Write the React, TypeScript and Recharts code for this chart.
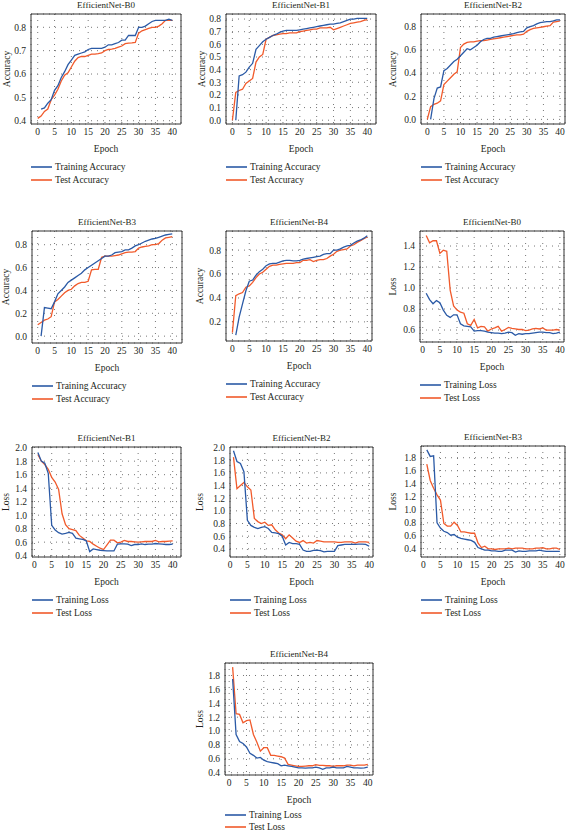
import { LineChart, Line, XAxis, YAxis, CartesianGrid, ReferenceArea } from "recharts";

const FONT = '"Liberation Serif", "DejaVu Serif", serif';
const BLUE = "#2b5aa6";
const RED = "#f15a2b";
const TEXT = "#231f20";
const PAGE_H = 833;

const epochs = [0, 1, 2, 3, 4, 5, 6, 7, 8, 9, 10, 11, 12, 13, 14, 15, 16, 17, 18, 19, 20, 21, 22, 23, 24, 25, 26, 27, 28, 29, 30, 31, 32, 33, 34, 35, 36, 37, 38, 39, 40];
const epochTicks = [0, 5, 10, 15, 20, 25, 30, 35, 40];

// accuracy curves
const accB0Train = [null, 0.45, 0.455, 0.475, 0.49, 0.53, 0.55, 0.585, 0.61, 0.64, 0.66, 0.68, 0.685, 0.69, 0.695, 0.705, 0.71, 0.71, 0.71, 0.71, 0.715, 0.725, 0.725, 0.73, 0.735, 0.745, 0.745, 0.765, 0.765, 0.765, 0.8, 0.8, 0.805, 0.815, 0.825, 0.83, 0.83, 0.83, 0.83, 0.835, 0.83];
const accB0Test = [0.41, 0.42, 0.44, 0.45, 0.49, 0.51, 0.535, 0.57, 0.595, 0.605, 0.63, 0.655, 0.67, 0.675, 0.675, 0.68, 0.685, 0.685, 0.687, 0.69, 0.7, 0.705, 0.707, 0.71, 0.715, 0.72, 0.73, 0.732, 0.733, 0.735, 0.775, 0.785, 0.79, 0.795, 0.8, 0.8, 0.805, 0.815, 0.83, 0.83, 0.83];

const accB1Train = [null, 0.0, 0.35, 0.36, 0.38, 0.42, 0.45, 0.56, 0.59, 0.62, 0.64, 0.655, 0.67, 0.68, 0.695, 0.705, 0.71, 0.71, 0.71, 0.71, 0.715, 0.72, 0.725, 0.73, 0.735, 0.74, 0.745, 0.75, 0.755, 0.76, 0.76, 0.765, 0.77, 0.78, 0.79, 0.8, 0.8, 0.805, 0.805, 0.805, 0.805];
const accB1Test = [0.0, 0.22, 0.235, 0.245, 0.29, 0.31, 0.33, 0.46, 0.5, 0.52, 0.64, 0.655, 0.67, 0.675, 0.68, 0.685, 0.685, 0.69, 0.69, 0.69, 0.7, 0.705, 0.71, 0.715, 0.72, 0.72, 0.73, 0.73, 0.73, 0.735, 0.715, 0.725, 0.735, 0.745, 0.755, 0.765, 0.77, 0.775, 0.78, 0.79, 0.795];

const accB2Train = [null, 0.0, 0.18, 0.27, 0.28, 0.42, 0.44, 0.47, 0.5, 0.52, 0.55, 0.58, 0.61, 0.6, 0.62, 0.64, 0.67, 0.69, 0.7, 0.7, 0.71, 0.715, 0.72, 0.725, 0.73, 0.735, 0.74, 0.75, 0.755, 0.76, 0.79, 0.8, 0.81, 0.825, 0.835, 0.84, 0.845, 0.845, 0.85, 0.86, 0.86];
const accB2Test = [0.0, 0.11, 0.13, 0.14, 0.16, 0.3, 0.33, 0.36, 0.39, 0.41, 0.62, 0.65, 0.665, 0.67, 0.67, 0.675, 0.68, 0.68, 0.685, 0.69, 0.695, 0.7, 0.705, 0.71, 0.715, 0.72, 0.725, 0.73, 0.73, 0.735, 0.76, 0.775, 0.785, 0.79, 0.795, 0.8, 0.805, 0.81, 0.84, 0.845, 0.85];

const accB3Train = [null, 0.0, 0.25, 0.245, 0.24, 0.3, 0.37, 0.4, 0.43, 0.47, 0.49, 0.51, 0.53, 0.55, 0.58, 0.6, 0.62, 0.64, 0.66, 0.68, 0.7, 0.7, 0.71, 0.73, 0.735, 0.74, 0.755, 0.755, 0.77, 0.79, 0.8, 0.815, 0.83, 0.84, 0.85, 0.855, 0.865, 0.875, 0.885, 0.89, 0.895];
const accB3Test = [0.1, 0.12, 0.14, 0.15, 0.17, 0.3, 0.32, 0.35, 0.38, 0.4, 0.41, 0.44, 0.46, 0.47, 0.47, 0.48, 0.58, 0.585, 0.585, 0.69, 0.7, 0.7, 0.7, 0.705, 0.71, 0.72, 0.73, 0.735, 0.735, 0.74, 0.77, 0.78, 0.785, 0.79, 0.8, 0.8, 0.81, 0.84, 0.86, 0.865, 0.87];

const accB4Train = [null, 0.09, 0.24, 0.35, 0.46, 0.54, 0.55, 0.59, 0.62, 0.64, 0.67, 0.685, 0.69, 0.69, 0.7, 0.71, 0.715, 0.715, 0.71, 0.71, 0.715, 0.725, 0.73, 0.735, 0.74, 0.745, 0.75, 0.765, 0.77, 0.77, 0.8, 0.8, 0.81, 0.825, 0.835, 0.84, 0.86, 0.875, 0.885, 0.9, 0.92];
const accB4Test = [0.11, 0.42, 0.435, 0.445, 0.49, 0.5, 0.53, 0.57, 0.6, 0.615, 0.64, 0.665, 0.675, 0.675, 0.68, 0.685, 0.69, 0.69, 0.69, 0.695, 0.695, 0.715, 0.715, 0.72, 0.705, 0.715, 0.72, 0.72, 0.73, 0.75, 0.765, 0.79, 0.8, 0.805, 0.81, 0.835, 0.845, 0.865, 0.88, 0.895, 0.91];

// loss curves
const lossB0Train = [null, 0.95, 0.89, 0.85, 0.88, 0.86, 0.79, 0.74, 0.72, 0.745, 0.745, 0.66, 0.64, 0.635, 0.63, 0.59, 0.595, 0.595, 0.59, 0.58, 0.575, 0.57, 0.57, 0.565, 0.57, 0.58, 0.575, 0.55, 0.565, 0.56, 0.565, 0.565, 0.57, 0.575, 0.58, 0.58, 0.575, 0.575, 0.565, 0.57, 0.58];
const lossB0Test = [null, 1.5, 1.43, 1.45, 1.45, 1.33, 1.36, 1.35, 0.98, 0.83, 0.79, 0.77, 0.76, 0.66, 0.645, 0.7, 0.62, 0.635, 0.63, 0.59, 0.61, 0.62, 0.635, 0.59, 0.605, 0.625, 0.615, 0.61, 0.605, 0.605, 0.595, 0.6, 0.61, 0.615, 0.61, 0.62, 0.6, 0.6, 0.6, 0.605, 0.6];

const lossB1Train = [null, 1.93, 1.8, 1.77, 1.62, 0.85, 0.78, 0.74, 0.72, 0.73, 0.745, 0.73, 0.66, 0.65, 0.64, 0.62, 0.46, 0.5, 0.49, 0.48, 0.475, 0.47, 0.47, 0.47, 0.57, 0.575, 0.575, 0.57, 0.55, 0.565, 0.565, 0.575, 0.565, 0.57, 0.57, 0.58, 0.575, 0.57, 0.565, 0.565, 0.57];
const lossB1Test = [null, 1.9, 1.8, 1.75, 1.68, 1.56, 1.49, 1.38, 1.02, 0.86, 0.8, 0.785, 0.77, 0.7, 0.66, 0.62, 0.61, 0.57, 0.54, 0.51, 0.49, 0.56, 0.63, 0.63, 0.59, 0.6, 0.625, 0.61, 0.61, 0.605, 0.6, 0.605, 0.61, 0.61, 0.61, 0.625, 0.605, 0.61, 0.61, 0.615, 0.62];

const lossB2Train = [null, 1.95, 1.78, 1.75, 1.62, 0.85, 0.77, 0.74, 0.72, 0.74, 0.75, 0.72, 0.66, 0.65, 0.64, 0.6, 0.46, 0.5, 0.48, 0.48, 0.47, 0.38, 0.36, 0.36, 0.375, 0.38, 0.37, 0.35, 0.36, 0.36, 0.36, 0.45, 0.46, 0.47, 0.47, 0.47, 0.47, 0.475, 0.475, 0.47, 0.44];
const lossB2Test = [null, 1.85, 1.35, 1.4, 1.45, 1.38, 1.33, 0.88, 0.83, 0.8, 0.82, 0.77, 0.78, 0.7, 0.65, 0.62, 0.56, 0.62, 0.57, 0.52, 0.5, 0.53, 0.49, 0.5, 0.49, 0.53, 0.52, 0.51, 0.51, 0.51, 0.51, 0.5, 0.5, 0.51, 0.51, 0.51, 0.49, 0.51, 0.51, 0.51, 0.5];

const lossB3Train = [null, 1.92, 1.82, 1.83, 0.8, 0.72, 0.67, 0.65, 0.61, 0.62, 0.58, 0.56, 0.55, 0.54, 0.53, 0.5, 0.42, 0.4, 0.38, 0.38, 0.37, 0.37, 0.36, 0.36, 0.38, 0.38, 0.38, 0.35, 0.37, 0.36, 0.36, 0.37, 0.37, 0.37, 0.38, 0.37, 0.36, 0.36, 0.36, 0.36, 0.36];
const lossB3Test = [null, 1.7, 1.45, 1.33, 1.23, 1.15, 0.79, 0.75, 0.75, 0.81, 0.76, 0.66, 0.66, 0.65, 0.64, 0.64, 0.49, 0.42, 0.44, 0.4, 0.4, 0.39, 0.4, 0.4, 0.4, 0.41, 0.4, 0.41, 0.41, 0.41, 0.4, 0.4, 0.4, 0.41, 0.41, 0.42, 0.4, 0.4, 0.41, 0.41, 0.39];

const lossB4Train = [null, 1.75, 0.95, 0.85, 0.82, 0.77, 0.68, 0.65, 0.61, 0.62, 0.58, 0.56, 0.55, 0.54, 0.53, 0.5, 0.51, 0.5, 0.49, 0.48, 0.47, 0.47, 0.465, 0.47, 0.47, 0.48, 0.47, 0.45, 0.47, 0.47, 0.48, 0.47, 0.47, 0.47, 0.49, 0.48, 0.47, 0.47, 0.465, 0.47, 0.48];
const lossB4Test = [null, 1.92, 1.25, 1.24, 1.12, 1.15, 1.16, 0.95, 0.84, 0.71, 0.76, 0.76, 0.65, 0.65, 0.64, 0.63, 0.61, 0.52, 0.51, 0.5, 0.49, 0.49, 0.495, 0.5, 0.5, 0.515, 0.505, 0.505, 0.5, 0.5, 0.49, 0.5, 0.5, 0.5, 0.51, 0.51, 0.5, 0.51, 0.51, 0.51, 0.52];

const accTicksFine = [0.4, 0.5, 0.6, 0.7, 0.8];
const accTicksTenth = [0.0, 0.1, 0.2, 0.3, 0.4, 0.5, 0.6, 0.7, 0.8];
const accTicksFifth = [0.0, 0.2, 0.4, 0.6, 0.8];
const accTicksB4 = [0.2, 0.4, 0.6, 0.8];
const lossTicksB0 = [0.6, 0.8, 1.0, 1.2, 1.4];
const lossTicksFull = [0.4, 0.6, 0.8, 1.0, 1.2, 1.4, 1.6, 1.8, 2.0];
const lossTicksTo18 = [0.4, 0.6, 0.8, 1.0, 1.2, 1.4, 1.6, 1.8];

type PanelCfg = {
  title: string;
  kind: "acc" | "loss";
  train: (number | null)[];
  test: (number | null)[];
  yTicks: number[];
  yDomain: [number, number];
  xDomain: [number, number];
  colLeft: number;
  boxLeft: number;
  boxTop: number;
  boxW: number;
  boxH: number;
  labelX: number;
};

const panels: PanelCfg[] = [
  { title: "EfficientNet-B0", kind: "acc", train: accB0Train, test: accB0Test, yTicks: accTicksFine, yDomain: [0.386, 0.857], xDomain: [-2, 42.6], colLeft: 0, boxLeft: 31, boxTop: 14, boxW: 150, boxH: 110, labelX: 7 },
  { title: "EfficientNet-B1", kind: "acc", train: accB1Train, test: accB1Test, yTicks: accTicksTenth, yDomain: [-0.03, 0.84], xDomain: [-1.9, 42.6], colLeft: 190, boxLeft: 226, boxTop: 14, boxW: 150, boxH: 110, labelX: 12 },
  { title: "EfficientNet-B2", kind: "acc", train: accB2Train, test: accB2Test, yTicks: accTicksFifth, yDomain: [-0.04, 0.91], xDomain: [-1.9, 41.5], colLeft: 380, boxLeft: 421, boxTop: 14, boxW: 144, boxH: 110, labelX: 13 },
  { title: "EfficientNet-B3", kind: "acc", train: accB3Train, test: accB3Test, yTicks: accTicksFifth, yDomain: [-0.06, 0.92], xDomain: [-1.7, 42.9], colLeft: 0, boxLeft: 32, boxTop: 231, boxW: 150, boxH: 112, labelX: 6 },
  { title: "EfficientNet-B4", kind: "acc", train: accB4Train, test: accB4Test, yTicks: accTicksB4, yDomain: [0.04, 0.96], xDomain: [-1.9, 41.4], colLeft: 190, boxLeft: 226, boxTop: 231, boxW: 146, boxH: 110, labelX: 10 },
  { title: "EfficientNet-B0", kind: "loss", train: lossB0Train, test: lossB0Test, yTicks: lossTicksB0, yDomain: [0.486, 1.543], xDomain: [-0.8, 41.2], colLeft: 380, boxLeft: 420, boxTop: 231, boxW: 144, boxH: 111, labelX: 13 },
  { title: "EfficientNet-B1", kind: "loss", train: lossB1Train, test: lossB1Test, yTicks: lossTicksFull, yDomain: [0.38, 2.01], xDomain: [-0.7, 42.4], colLeft: 0, boxLeft: 32, boxTop: 447, boxW: 149, boxH: 110, labelX: 6 },
  { title: "EfficientNet-B2", kind: "loss", train: lossB2Train, test: lossB2Test, yTicks: lossTicksFull, yDomain: [0.27, 2.01], xDomain: [0, 41.1], colLeft: 190, boxLeft: 230, boxTop: 447, boxW: 143, boxH: 110, labelX: 10 },
  { title: "EfficientNet-B3", kind: "loss", train: lossB3Train, test: lossB3Test, yTicks: lossTicksTo18, yDomain: [0.275, 1.98], xDomain: [-0.7, 41.5], colLeft: 380, boxLeft: 421, boxTop: 446, boxW: 144, boxH: 111, labelX: 13 },
  { title: "EfficientNet-B4", kind: "loss", train: lossB4Train, test: lossB4Test, yTicks: lossTicksTo18, yDomain: [0.367, 1.98], xDomain: [-1.2, 41.5], colLeft: 190, boxLeft: 225, boxTop: 663, boxW: 148, boxH: 112, labelX: 10 },
];

const tickStyle = { fontSize: 9.5, fill: TEXT, fontFamily: FONT };

function Panel({ p }: { p: PanelCfg }) {
  const rows = epochs.map((e, i) => ({ epoch: e, train: p.train[i], test: p.test[i] }));
  const yW = p.boxLeft - p.colLeft;
  const mTop = 7;
  const xH = 30;
  const w = yW + p.boxW + 3;
  const h = mTop + p.boxH + xH;
  const yLabel = p.kind === "acc" ? "Accuracy" : "Loss";
  const names = p.kind === "acc" ? ["Training Accuracy", "Test Accuracy"] : ["Training Loss", "Test Loss"];

  return (
    <>
      <div style={{ position: "absolute", left: p.colLeft, top: p.boxTop - mTop }}>
        <LineChart width={w} height={h} data={rows} margin={{ top: mTop, right: 3, bottom: 0, left: 0 }}>
          <CartesianGrid strokeDasharray="1 5" stroke="#777" />
          <XAxis
            dataKey="epoch"
            type="number"
            domain={p.xDomain}
            ticks={epochTicks}
            interval={0}
            allowDataOverflow
            axisLine={false}
            tickLine={false}
            tickSize={3}
            tickMargin={1}
            height={xH}
            tick={tickStyle}
            label={{ value: "Epoch", position: "insideBottom", offset: 2, style: { fontSize: 9.5, fill: TEXT, fontFamily: FONT } }}
          />
          <YAxis
            type="number"
            domain={p.yDomain}
            ticks={p.yTicks}
            interval={0}
            allowDataOverflow
            axisLine={false}
            tickLine={false}
            tickSize={3}
            tickMargin={2}
            width={yW}
            tick={tickStyle}
            tickFormatter={(v: number) => v.toFixed(1)}
            label={{
              value: yLabel,
              angle: -90,
              position: "insideLeft",
              offset: p.labelX,
              style: { fontSize: 9.5, fill: TEXT, fontFamily: FONT, textAnchor: "middle" },
            }}
          />
          <ReferenceArea
            x1={p.xDomain[0]}
            x2={p.xDomain[1]}
            y1={p.yDomain[0]}
            y2={p.yDomain[1]}
            fill="none"
            fillOpacity={0}
            stroke="#333"
            strokeWidth={1}
            ifOverflow="visible"
          />
          <Line type="linear" dataKey="test" stroke={RED} strokeWidth={1.3} dot={false} isAnimationActive={false} />
          <Line type="linear" dataKey="train" stroke={BLUE} strokeWidth={1.3} dot={false} isAnimationActive={false} />
        </LineChart>
      </div>
      <div
        style={{
          position: "absolute",
          left: p.boxLeft,
          width: p.boxW,
          top: p.boxTop - 14,
          lineHeight: "10px",
          textAlign: "center",
          fontSize: 9,
          color: TEXT,
          fontFamily: FONT,
        }}
      >
        {p.title}
      </div>
      {[0, 1].map((k) => (
        <div
          key={k}
          style={{
            position: "absolute",
            left: p.boxLeft,
            top: Math.min(p.boxTop + p.boxH + 36.5 + k * 13, PAGE_H - 12 - (1 - k) * 12),
            height: 12,
            display: "flex",
            alignItems: "center",
            fontSize: 9.5,
            color: TEXT,
            fontFamily: FONT,
            whiteSpace: "nowrap",
          }}
        >
          <svg width={21} height={4} style={{ marginRight: 3 }}>
            <line x1={0} y1={2} x2={21} y2={2} stroke={k === 0 ? BLUE : RED} strokeWidth={1.6} />
          </svg>
          {names[k]}
        </div>
      ))}
    </>
  );
}

export default function App() {
  return (
    <div style={{ position: "absolute", left: 0, top: 0, width: 569, height: PAGE_H, background: "#fff", overflow: "hidden" }}>
      {panels.map((p, i) => (
        <Panel key={i} p={p} />
      ))}
    </div>
  );
}
